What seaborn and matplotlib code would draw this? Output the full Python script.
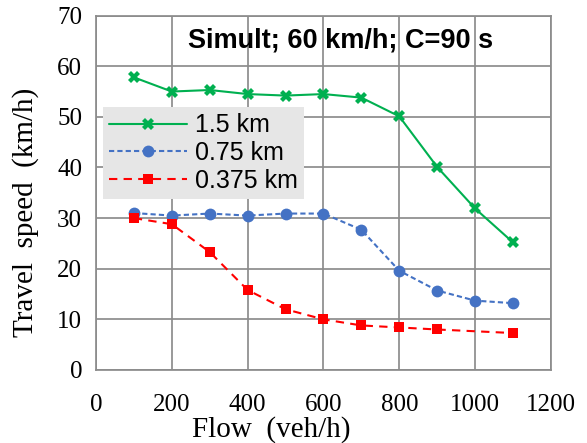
import numpy as np
import pandas as pd
import seaborn as sns
import matplotlib.pyplot as plt

# values
flow = [100, 200, 300, 400, 500, 600, 700, 800, 900, 1000, 1100]
speed_15 = [57.8, 55.0, 55.3, 54.5, 54.2, 54.5, 53.8, 50.1, 40.1, 31.9, 25.2]
speed_075 = [31.0, 30.5, 30.9, 30.5, 30.9, 30.9, 27.7, 19.6, 15.7, 13.7, 13.2]
flow_0375 = [100, 200, 300, 400, 500, 600, 700, 800, 900, 1100]
speed_0375 = [30.0, 28.8, 23.3, 15.8, 12.0, 10.0, 8.8, 8.4, 8.0, 7.3]

sns.set_style("white", {'text.color': 'black', 'axes.labelcolor': 'black',
                        'xtick.color': 'black', 'ytick.color': 'black'})
plt.rcParams['font.family'] = ['Liberation Serif', 'DejaVu Serif']

fig = plt.figure(figsize=(5.87, 4.43), dpi=100)
ax = fig.add_axes([0.1635, 0.1648, 0.775, 0.8])

sns.lineplot(x=flow, y=speed_15, ax=ax, color='#00b050', marker='X',
             markersize=9, markeredgewidth=0, linewidth=1.5, label='1.5 km')
sns.lineplot(x=flow, y=speed_075, ax=ax, color='#4472c4', marker='o',
             markersize=8.5, markeredgewidth=0, linewidth=1.5, linestyle=(0, (2.5, 1.5)),
             label='0.75 km')
sns.lineplot(x=flow_0375, y=speed_0375, ax=ax, color='#ff0000', marker='s',
             markersize=7, markeredgewidth=0, linewidth=1.5, linestyle=(0, (4, 3)),
             label='0.375 km')

ax.set_xlim(0, 1200)
ax.set_ylim(0, 70)
ax.set_xticks(np.arange(0, 1201, 200))
ax.set_yticks(np.arange(0, 71, 10))
ax.grid(True, color='#8c8c8c', linewidth=1.25)
for sp in ax.spines.values():
    sp.set_color('#8c8c8c')
    sp.set_linewidth(1.25)
ax.tick_params(axis='both', length=0, labelsize=18, labelcolor='black')
ax.tick_params(axis='x', pad=17)
ax.tick_params(axis='y', pad=10)

ax.set_xlabel('Flow  (veh/h)', fontsize=21, color='black')
ax.set_ylabel('Travel  speed  (km/h)', fontsize=21, color='black')
ax.xaxis.set_label_coords(0.385, -0.13)
ax.yaxis.set_label_coords(-0.125, 0.446)

ax.text(0.538, 0.929, 'Simult; 60 km/h; C=90 s', transform=ax.transAxes,
        ha='center', va='center', fontsize=19.5, fontweight='bold', color='black',
        family=['Liberation Sans', 'DejaVu Sans'])

leg = ax.legend(loc='upper left', bbox_to_anchor=(0.0154, 0.742), frameon=True,
                fancybox=False, facecolor='#e6e6e6', edgecolor='none', framealpha=1,
                prop={'family': ['Liberation Sans', 'DejaVu Sans'], 'size': 18},
                labelspacing=0.15, handlelength=3.1, borderpad=0.25, handletextpad=0.32,
                borderaxespad=0, labelcolor='black')

fig.savefig('out.png', dpi=100)
